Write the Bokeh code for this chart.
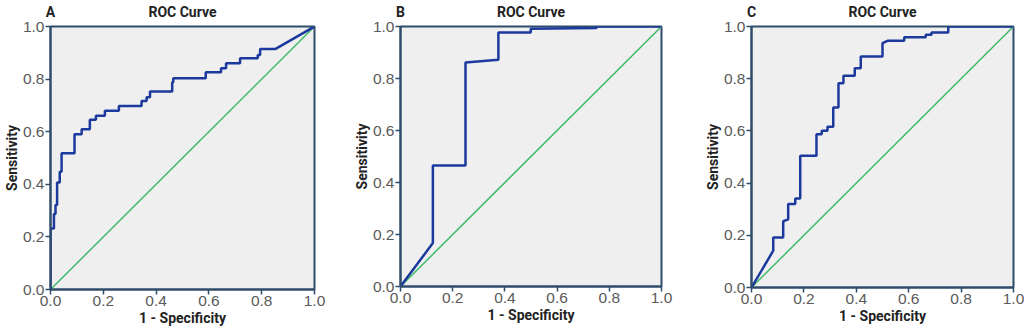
from bokeh.plotting import figure
from bokeh.layouts import row
from bokeh.models import Range1d, FixedTicker, LinearAxis, PrintfTickFormatter
from bokeh.embed import file_html
from bokeh.resources import INLINE

# ROC curve vertices (1 - specificity, sensitivity)
fpr_a = [0, 0, 0.013, 0.013, 0.019, 0.019, 0.025, 0.025, 0.035, 0.035, 0.042, 0.042,
         0.091, 0.091, 0.118, 0.118, 0.149, 0.149, 0.172, 0.172, 0.206, 0.206,
         0.259, 0.259, 0.345, 0.345, 0.364, 0.364, 0.377, 0.377, 0.461, 0.461,
         0.465, 0.465, 0.588, 0.588, 0.646, 0.646, 0.665, 0.665, 0.718, 0.718,
         0.785, 0.785, 0.794, 0.794, 0.851, 1.0]
tpr_a = [0, 0.232, 0.232, 0.287, 0.287, 0.321, 0.321, 0.407, 0.407, 0.448, 0.448, 0.518,
         0.518, 0.590, 0.590, 0.609, 0.609, 0.645, 0.645, 0.661, 0.661, 0.680,
         0.680, 0.698, 0.698, 0.717, 0.717, 0.731, 0.731, 0.753, 0.753, 0.788,
         0.788, 0.803, 0.803, 0.826, 0.826, 0.841, 0.841, 0.860, 0.860, 0.879,
         0.879, 0.892, 0.892, 0.914, 0.914, 1.0]

fpr_b = [0, 0.124, 0.124, 0.249, 0.249, 0.375, 0.375, 0.499, 0.499, 0.751, 0.751, 1.0]
tpr_b = [0, 0.167, 0.465, 0.465, 0.862, 0.872, 0.977, 0.977, 0.991, 0.994, 1.0, 1.0]

fpr_c = [0, 0.083, 0.083, 0.121, 0.121, 0.121, 0.140, 0.140, 0.167, 0.167, 0.186, 0.186,
         0.248, 0.248, 0.268, 0.268, 0.290, 0.290, 0.312, 0.312, 0.332, 0.332,
         0.351, 0.351, 0.394, 0.394, 0.417, 0.417, 0.500, 0.500, 0.519, 0.583,
         0.583, 0.665, 0.665, 0.687, 0.687, 0.751, 0.751, 1.0]
tpr_c = [0, 0.141, 0.192, 0.192, 0.197, 0.254, 0.261, 0.320, 0.320, 0.341, 0.341, 0.505,
         0.505, 0.587, 0.587, 0.601, 0.601, 0.616, 0.616, 0.690, 0.690, 0.783,
         0.783, 0.811, 0.811, 0.840, 0.840, 0.885, 0.885, 0.936, 0.945, 0.945,
         0.959, 0.959, 0.968, 0.968, 0.977, 0.977, 1.0, 1.0]

ref_line = [0.0, 1.0]
ticks = [0.0, 0.2, 0.4, 0.6, 0.8, 1.0]
panel_letters = ["A", "B", "C"]
title_text = "ROC Curve"
x_label = "1 - Specificity"
y_label = "Sensitivity"

FRAME = "#2f4d6b"
BLUE = "#1c3a9e"
GREEN = "#3dbb6a"
BG = "#efefef"
BOLDFONT = "Roboto"
TICKFONT = "Liberation Sans"


def make(fpr, tpr, letter, left, fw, right, top, fh, bottom):
    p = figure(frame_width=fw, frame_height=fh,
               min_border_left=left, min_border_right=right,
               min_border_top=top, min_border_bottom=bottom,
               x_range=Range1d(0, 1), y_range=Range1d(0, 1),
               output_backend="svg", toolbar_location=None)
    p.background_fill_color = BG
    p.border_fill_color = "white"
    p.outline_line_color = FRAME
    p.outline_line_width = 2
    p.grid.visible = False
    for ax in (p.xaxis[0], p.yaxis[0]):
        ax.ticker = FixedTicker(ticks=ticks)
        ax.formatter = PrintfTickFormatter(format="%.1f")
        ax.axis_line_color = FRAME
        ax.axis_line_width = 2
        ax.major_tick_line_color = FRAME
        ax.major_tick_line_width = 1.5
        ax.major_tick_out = 5
        ax.major_tick_in = 0
        ax.minor_tick_line_color = None
        ax.major_label_text_font = TICKFONT
        ax.major_label_text_font_size = "15.5px"
        ax.major_label_text_color = "#5a5a5a"
        ax.major_label_standoff = 1
        ax.axis_label_text_font = BOLDFONT
        ax.axis_label_text_font_size = "14px"
        ax.axis_label_text_font_style = "bold"
        ax.axis_label_text_color = "#222222"
    p.xaxis.axis_label = x_label
    p.yaxis.axis_label = y_label
    p.xaxis.axis_label_standoff = 1
    p.yaxis.axis_label_standoff = 0

    # panel letter and title as labels of an axis above the frame
    top_axis = LinearAxis(ticker=FixedTicker(ticks=[0.0, 0.5]),
                          major_label_overrides={0: letter, 0.5: title_text})
    top_axis.axis_line_color = None
    top_axis.major_tick_line_color = None
    top_axis.minor_tick_line_color = None
    top_axis.major_tick_out = 0
    top_axis.major_tick_in = 0
    top_axis.major_label_standoff = 7
    top_axis.major_label_text_font = BOLDFONT
    top_axis.major_label_text_font_size = "14px"
    top_axis.major_label_text_font_style = "bold"
    top_axis.major_label_text_color = "#222222"
    p.add_layout(top_axis, "above")

    p.line(ref_line, ref_line, line_color=GREEN, line_width=1.5)
    p.line(fpr, tpr, line_color=BLUE, line_width=2.5)
    return p


pa = make(fpr_a, tpr_a, panel_letters[0], 50, 264, 26, 25, 263, 41)
pb = make(fpr_b, tpr_b, panel_letters[1], 60, 261, 22, 25, 260, 44)
pc = make(fpr_c, tpr_c, panel_letters[2], 68, 262, 11, 23, 261, 45)

layout = row(pa, pb, pc, spacing=0)
open("out.html", "w").write(file_html(layout, INLINE))
